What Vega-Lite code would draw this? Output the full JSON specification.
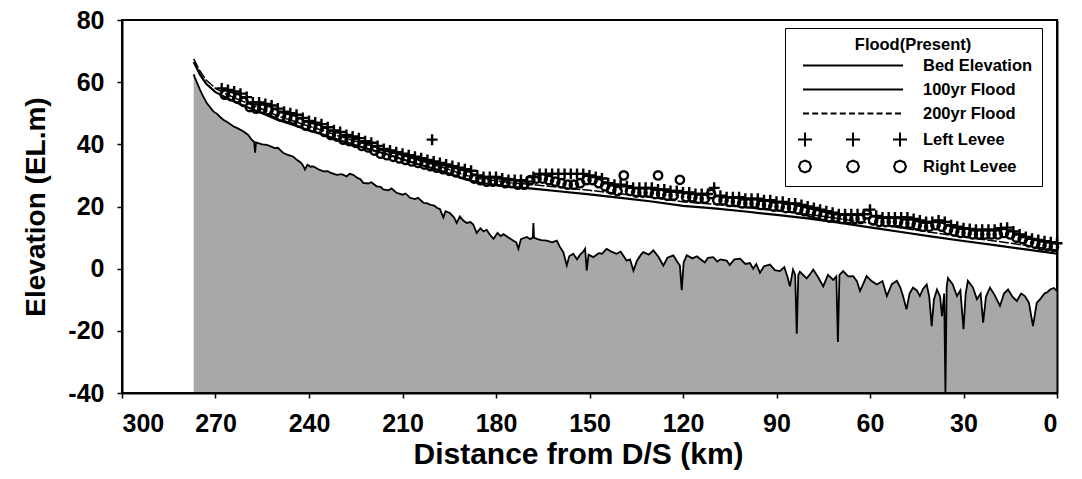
{
  "$schema": "https://vega.github.io/schema/vega-lite/v6.json",
  "width": 935,
  "height": 373,
  "autosize": "none",
  "padding": {"left": 122, "top": 20, "right": 25, "bottom": 86},
  "background": "white",
  "config": {
    "font": "Liberation Sans",
    "view": {"stroke": "black", "strokeWidth": 2},
    "axis": {
      "grid": false,
      "domainColor": "black",
      "domainWidth": 2,
      "tickColor": "black",
      "tickWidth": 1.5,
      "tickSize": 5,
      "labelColor": "black",
      "labelFont": "Liberation Sans",
      "labelFontWeight": "bold",
      "labelFontSize": 25,
      "titleColor": "black",
      "titleFont": "Liberation Sans",
      "titleFontWeight": "bold"
    }
  },
  "resolve": {"axis": {"y": "independent"}},
  "datasets": {
    "bed": [
      {"km": 277, "elev": 62.5}, {"km": 276.6, "elev": 61.4}, {"km": 275.8, "elev": 59.5}, {"km": 275, "elev": 57.6},
      {"km": 274, "elev": 55.5}, {"km": 272.8, "elev": 53.3}, {"km": 271.8, "elev": 52}, {"km": 270.7, "elev": 50.6},
      {"km": 269.5, "elev": 49.8}, {"km": 268.5, "elev": 48.8}, {"km": 267.5, "elev": 47.9}, {"km": 266, "elev": 47},
      {"km": 264.3, "elev": 45.8}, {"km": 263, "elev": 45.2}, {"km": 261.1, "elev": 44.2}, {"km": 259.5, "elev": 43},
      {"km": 258.4, "elev": 41.5}, {"km": 257.6, "elev": 40.8}, {"km": 257.3, "elev": 37.3}, {"km": 257, "elev": 40.6},
      {"km": 255, "elev": 40}, {"km": 253.5, "elev": 39.8}, {"km": 252.5, "elev": 39.4}, {"km": 251, "elev": 38.8},
      {"km": 250, "elev": 38.9}, {"km": 248.2, "elev": 37.2}, {"km": 246.5, "elev": 36.5}, {"km": 245, "elev": 36},
      {"km": 244, "elev": 35.1}, {"km": 242.5, "elev": 34}, {"km": 241.8, "elev": 33}, {"km": 241.3, "elev": 31.9},
      {"km": 240.5, "elev": 33.4}, {"km": 239.5, "elev": 32.8}, {"km": 238.6, "elev": 32.9}, {"km": 237, "elev": 32},
      {"km": 235.4, "elev": 31.3}, {"km": 234, "elev": 31.4}, {"km": 233, "elev": 30.8}, {"km": 231.1, "elev": 30.2},
      {"km": 229.5, "elev": 30.4}, {"km": 227.9, "elev": 29.7}, {"km": 227, "elev": 30.5}, {"km": 225.8, "elev": 30.2},
      {"km": 224.5, "elev": 29.2}, {"km": 223.5, "elev": 28.8}, {"km": 222.6, "elev": 27.6}, {"km": 221, "elev": 27.4},
      {"km": 220, "elev": 27.8}, {"km": 218.3, "elev": 26.5}, {"km": 217, "elev": 26.3}, {"km": 216.2, "elev": 25.5},
      {"km": 214.5, "elev": 25.2}, {"km": 213.5, "elev": 25.8}, {"km": 211.9, "elev": 24.4}, {"km": 210, "elev": 23.8},
      {"km": 209, "elev": 24.2}, {"km": 207.6, "elev": 22.8}, {"km": 206, "elev": 22.4}, {"km": 205, "elev": 22.8},
      {"km": 203.3, "elev": 21.2}, {"km": 202, "elev": 21}, {"km": 201, "elev": 20.5}, {"km": 199.8, "elev": 20.3},
      {"km": 199, "elev": 19.6}, {"km": 198, "elev": 19.2}, {"km": 196.9, "elev": 16.5}, {"km": 196.2, "elev": 18.5},
      {"km": 194.8, "elev": 17.9}, {"km": 193.5, "elev": 16.5}, {"km": 192.6, "elev": 14.7}, {"km": 191.6, "elev": 16.8},
      {"km": 190.5, "elev": 15.5}, {"km": 189.4, "elev": 14.7}, {"km": 188.2, "elev": 15}, {"km": 187.3, "elev": 14.2},
      {"km": 186.2, "elev": 11.5}, {"km": 185, "elev": 13}, {"km": 184, "elev": 12}, {"km": 183, "elev": 12.5},
      {"km": 182, "elev": 11}, {"km": 180.8, "elev": 9.6}, {"km": 179.5, "elev": 11.5}, {"km": 178.5, "elev": 10.5},
      {"km": 177.6, "elev": 11.1}, {"km": 176, "elev": 10}, {"km": 174.4, "elev": 9}, {"km": 173.5, "elev": 8.5},
      {"km": 172.8, "elev": 6.4}, {"km": 172, "elev": 9.5}, {"km": 170.1, "elev": 10.2}, {"km": 169, "elev": 9.5},
      {"km": 168.2, "elev": 10}, {"km": 168, "elev": 14.7}, {"km": 167.8, "elev": 10}, {"km": 166.9, "elev": 9.6},
      {"km": 165.5, "elev": 9.2}, {"km": 163.7, "elev": 9}, {"km": 162, "elev": 8.5}, {"km": 160.5, "elev": 9},
      {"km": 159.5, "elev": 7}, {"km": 158.4, "elev": 5.3}, {"km": 157.3, "elev": 1}, {"km": 156.5, "elev": 4},
      {"km": 155.2, "elev": 4.8}, {"km": 154, "elev": 3}, {"km": 153, "elev": 4.5}, {"km": 152, "elev": 5.5},
      {"km": 151.4, "elev": 6.4}, {"km": 150.9, "elev": -0.6}, {"km": 150.3, "elev": 4.5}, {"km": 148.8, "elev": 3.7},
      {"km": 147, "elev": 5}, {"km": 146, "elev": 4.8}, {"km": 144.5, "elev": 6.4}, {"km": 143, "elev": 5.5},
      {"km": 141.3, "elev": 4.8}, {"km": 140, "elev": 5.5}, {"km": 138.1, "elev": 2.6}, {"km": 137, "elev": 3},
      {"km": 135.9, "elev": -0.6}, {"km": 134.8, "elev": 2.5}, {"km": 133.5, "elev": 4.5}, {"km": 132.7, "elev": 5.3},
      {"km": 131, "elev": 4.5}, {"km": 129.5, "elev": 5.9}, {"km": 128, "elev": 4}, {"km": 126.3, "elev": 1},
      {"km": 125, "elev": 3.5}, {"km": 123.1, "elev": 4.3}, {"km": 122, "elev": 2.5}, {"km": 121, "elev": 1},
      {"km": 120.4, "elev": -6.9}, {"km": 119.8, "elev": 2}, {"km": 118.8, "elev": 4.3}, {"km": 117, "elev": 3.3},
      {"km": 115.5, "elev": 4}, {"km": 114.6, "elev": 3.2}, {"km": 113, "elev": 2}, {"km": 112, "elev": 3.5},
      {"km": 110.3, "elev": 3.7}, {"km": 109, "elev": 2.3}, {"km": 108, "elev": 3}, {"km": 106, "elev": 2.6},
      {"km": 105, "elev": 1.2}, {"km": 103.5, "elev": 3}, {"km": 101.7, "elev": 3.2}, {"km": 100, "elev": 1.5},
      {"km": 98.5, "elev": 1.8}, {"km": 97.5, "elev": 0}, {"km": 96.5, "elev": 1.5}, {"km": 95.3, "elev": -1.3},
      {"km": 94, "elev": 0.8}, {"km": 92.1, "elev": 1.3}, {"km": 90.5, "elev": -0.5}, {"km": 88.9, "elev": -0.8},
      {"km": 87.5, "elev": 0.5}, {"km": 86.5, "elev": -2.5}, {"km": 85.7, "elev": -5.7}, {"km": 84.7, "elev": -0.3},
      {"km": 84, "elev": -2}, {"km": 83.5, "elev": -20.9}, {"km": 83, "elev": -2}, {"km": 82.5, "elev": -1},
      {"km": 80.3, "elev": -3.1}, {"km": 79, "elev": -1.5}, {"km": 78.2, "elev": -0.3}, {"km": 76.5, "elev": -3},
      {"km": 75, "elev": -5.7}, {"km": 73.5, "elev": -2}, {"km": 71.8, "elev": -3.6}, {"km": 70.8, "elev": -2.5},
      {"km": 70.3, "elev": -23.6}, {"km": 69.8, "elev": -2}, {"km": 68.6, "elev": -0.8}, {"km": 67, "elev": -2.5},
      {"km": 65.4, "elev": -2.4}, {"km": 64.2, "elev": -4}, {"km": 63.2, "elev": -7.2}, {"km": 62, "elev": -4.5},
      {"km": 61.1, "elev": -2.4}, {"km": 59.5, "elev": -4}, {"km": 57.8, "elev": -5.1}, {"km": 56, "elev": -4},
      {"km": 54.6, "elev": -8.8}, {"km": 53, "elev": -5}, {"km": 51.4, "elev": -3.9}, {"km": 50.3, "elev": -6},
      {"km": 49.4, "elev": -8.8}, {"km": 48.3, "elev": -13.1}, {"km": 47.3, "elev": -8}, {"km": 46.2, "elev": -6.1},
      {"km": 45, "elev": -7}, {"km": 44, "elev": -8.8}, {"km": 43, "elev": -6.5}, {"km": 41.8, "elev": -5.1},
      {"km": 41, "elev": -9}, {"km": 40.2, "elev": -18.5}, {"km": 39.5, "elev": -10}, {"km": 38.5, "elev": -6.7},
      {"km": 37.5, "elev": -9}, {"km": 36.9, "elev": -15.3}, {"km": 36.2, "elev": -8}, {"km": 35.8, "elev": -40},
      {"km": 35.4, "elev": -6}, {"km": 35, "elev": -3}, {"km": 33.5, "elev": -5}, {"km": 32.1, "elev": -8.8},
      {"km": 31, "elev": -7}, {"km": 30, "elev": -19.5}, {"km": 29.3, "elev": -8}, {"km": 28.6, "elev": -3.9},
      {"km": 27, "elev": -6}, {"km": 25.7, "elev": -9.8}, {"km": 24.5, "elev": -8}, {"km": 23.7, "elev": -17.4},
      {"km": 22.8, "elev": -9}, {"km": 21.5, "elev": -6.1}, {"km": 20, "elev": -8.5}, {"km": 18.3, "elev": -12},
      {"km": 17, "elev": -8}, {"km": 15.7, "elev": -6.7}, {"km": 14.3, "elev": -9}, {"km": 12.9, "elev": -10.4},
      {"km": 11.5, "elev": -8}, {"km": 10.3, "elev": -8.8}, {"km": 9, "elev": -11}, {"km": 7.7, "elev": -18.5},
      {"km": 6.5, "elev": -11}, {"km": 5.4, "elev": -9.8}, {"km": 4, "elev": -8}, {"km": 3, "elev": -7.5},
      {"km": 2.2, "elev": -6.7}, {"km": 1, "elev": -6.2}, {"km": 0, "elev": -7.2}
    ],
    "flood100": [
      {"km": 277, "elev": 66.5}, {"km": 275, "elev": 62.5}, {"km": 273, "elev": 59.5}, {"km": 270, "elev": 56.8},
      {"km": 267, "elev": 55.2}, {"km": 264, "elev": 53.8}, {"km": 260, "elev": 52}, {"km": 255, "elev": 50},
      {"km": 250, "elev": 47.8}, {"km": 245, "elev": 46.2}, {"km": 240, "elev": 44.5}, {"km": 235, "elev": 43},
      {"km": 230, "elev": 41.2}, {"km": 225, "elev": 39.7}, {"km": 220, "elev": 38.2}, {"km": 215, "elev": 36.8},
      {"km": 210, "elev": 35.2}, {"km": 205, "elev": 33.6}, {"km": 200, "elev": 32.2}, {"km": 195, "elev": 30.6},
      {"km": 190, "elev": 28.8}, {"km": 185, "elev": 27.6}, {"km": 180, "elev": 27}, {"km": 175, "elev": 26.3},
      {"km": 170, "elev": 25.9}, {"km": 165, "elev": 25.4}, {"km": 160, "elev": 24.9}, {"km": 150, "elev": 23.9},
      {"km": 140, "elev": 22.8}, {"km": 130, "elev": 21.6}, {"km": 120, "elev": 20.2}, {"km": 110, "elev": 19.4},
      {"km": 100, "elev": 18.4}, {"km": 90, "elev": 17.3}, {"km": 80, "elev": 16.2}, {"km": 70, "elev": 14.8},
      {"km": 60, "elev": 13.3}, {"km": 50, "elev": 11.8}, {"km": 40, "elev": 10.3}, {"km": 30, "elev": 8.9},
      {"km": 20, "elev": 7.6}, {"km": 10, "elev": 6.2}, {"km": 0, "elev": 4.8}
    ],
    "flood200": [
      {"km": 277, "elev": 67.5}, {"km": 275, "elev": 63.6}, {"km": 273, "elev": 60.7}, {"km": 270, "elev": 58},
      {"km": 267, "elev": 56.4}, {"km": 264, "elev": 55}, {"km": 260, "elev": 53.3}, {"km": 255, "elev": 51.3},
      {"km": 250, "elev": 49.1}, {"km": 245, "elev": 47.5}, {"km": 240, "elev": 45.8}, {"km": 235, "elev": 44.3},
      {"km": 230, "elev": 42.5}, {"km": 225, "elev": 41}, {"km": 220, "elev": 39.5}, {"km": 215, "elev": 38.1},
      {"km": 210, "elev": 36.5}, {"km": 205, "elev": 34.9}, {"km": 200, "elev": 33.5}, {"km": 195, "elev": 31.9},
      {"km": 190, "elev": 30.1}, {"km": 185, "elev": 28.9}, {"km": 180, "elev": 28.3}, {"km": 175, "elev": 27.6},
      {"km": 170, "elev": 27.2}, {"km": 165, "elev": 26.7}, {"km": 160, "elev": 26.2}, {"km": 150, "elev": 25.2},
      {"km": 140, "elev": 24.1}, {"km": 130, "elev": 22.9}, {"km": 120, "elev": 21.5}, {"km": 110, "elev": 20.7},
      {"km": 100, "elev": 19.7}, {"km": 90, "elev": 18.6}, {"km": 80, "elev": 17.5}, {"km": 70, "elev": 16.1},
      {"km": 60, "elev": 14.6}, {"km": 50, "elev": 13.1}, {"km": 40, "elev": 11.6}, {"km": 30, "elev": 10.2},
      {"km": 20, "elev": 8.9}, {"km": 10, "elev": 7.5}, {"km": 0, "elev": 6}
    ],
    "leftLevee": [
      {"km": 268, "elev": 58}, {"km": 266, "elev": 57.5}, {"km": 264, "elev": 57}, {"km": 262, "elev": 56.3},
      {"km": 260, "elev": 55.2}, {"km": 258, "elev": 53.5}, {"km": 256, "elev": 53.5}, {"km": 254, "elev": 53},
      {"km": 252, "elev": 52.5}, {"km": 250, "elev": 51.5}, {"km": 248, "elev": 50.5}, {"km": 246, "elev": 50},
      {"km": 244, "elev": 49.5}, {"km": 242, "elev": 48.5}, {"km": 240, "elev": 47.5}, {"km": 238, "elev": 47},
      {"km": 236, "elev": 46.5}, {"km": 234, "elev": 45.5}, {"km": 232, "elev": 44.5}, {"km": 230, "elev": 44},
      {"km": 228, "elev": 43}, {"km": 226, "elev": 42.5}, {"km": 224, "elev": 42}, {"km": 222, "elev": 41},
      {"km": 220, "elev": 40.5}, {"km": 218, "elev": 39.5}, {"km": 216, "elev": 38.5}, {"km": 214, "elev": 38},
      {"km": 212, "elev": 37.5}, {"km": 210, "elev": 37}, {"km": 208, "elev": 36.5}, {"km": 206, "elev": 36},
      {"km": 204, "elev": 35.5}, {"km": 202, "elev": 35}, {"km": 200.5, "elev": 41.5}, {"km": 200, "elev": 34.5},
      {"km": 198, "elev": 34}, {"km": 196, "elev": 33.5}, {"km": 194, "elev": 33}, {"km": 192, "elev": 32.5},
      {"km": 190, "elev": 32}, {"km": 188, "elev": 31.5}, {"km": 186, "elev": 30}, {"km": 184, "elev": 29.5},
      {"km": 182, "elev": 29.5}, {"km": 180, "elev": 29.5}, {"km": 178, "elev": 29}, {"km": 176, "elev": 28.5},
      {"km": 174, "elev": 28.5}, {"km": 172, "elev": 28.5}, {"km": 170, "elev": 28}, {"km": 168, "elev": 29.5},
      {"km": 166, "elev": 30.5}, {"km": 164, "elev": 30.5}, {"km": 162, "elev": 30.5}, {"km": 160, "elev": 30.5},
      {"km": 158, "elev": 30.5}, {"km": 156, "elev": 30.5}, {"km": 154, "elev": 30.5}, {"km": 152, "elev": 30.5},
      {"km": 150, "elev": 30}, {"km": 148, "elev": 29.5}, {"km": 146, "elev": 29}, {"km": 144, "elev": 27.5},
      {"km": 142, "elev": 27}, {"km": 140, "elev": 27}, {"km": 138, "elev": 26.5}, {"km": 136, "elev": 26},
      {"km": 134, "elev": 26}, {"km": 132, "elev": 26}, {"km": 130, "elev": 26}, {"km": 128, "elev": 25.5},
      {"km": 126, "elev": 25.5}, {"km": 124, "elev": 25}, {"km": 122, "elev": 25}, {"km": 120, "elev": 24.5},
      {"km": 118, "elev": 24.5}, {"km": 116, "elev": 24}, {"km": 114, "elev": 24}, {"km": 112, "elev": 24},
      {"km": 110, "elev": 26}, {"km": 108, "elev": 23.5}, {"km": 106, "elev": 23}, {"km": 104, "elev": 23},
      {"km": 102, "elev": 23}, {"km": 100, "elev": 22.5}, {"km": 98, "elev": 22.5}, {"km": 96, "elev": 22.5},
      {"km": 94, "elev": 22}, {"km": 92, "elev": 22}, {"km": 90, "elev": 21.5}, {"km": 88, "elev": 21.5},
      {"km": 86, "elev": 21}, {"km": 84, "elev": 21}, {"km": 82, "elev": 20.5}, {"km": 80, "elev": 20},
      {"km": 78, "elev": 19.5}, {"km": 76, "elev": 19}, {"km": 74, "elev": 18.5}, {"km": 72, "elev": 18},
      {"km": 70, "elev": 17.5}, {"km": 68, "elev": 17.5}, {"km": 66, "elev": 17.5}, {"km": 64, "elev": 17.5},
      {"km": 62, "elev": 17.5}, {"km": 60, "elev": 19}, {"km": 58, "elev": 17}, {"km": 56, "elev": 16.5},
      {"km": 54, "elev": 16.5}, {"km": 52, "elev": 16.5}, {"km": 50, "elev": 16.5}, {"km": 48, "elev": 16.5},
      {"km": 46, "elev": 16}, {"km": 44, "elev": 15.5}, {"km": 42, "elev": 15}, {"km": 40, "elev": 15},
      {"km": 38, "elev": 15.5}, {"km": 36, "elev": 15}, {"km": 34, "elev": 14}, {"km": 32, "elev": 13.5},
      {"km": 30, "elev": 13}, {"km": 28, "elev": 12.8}, {"km": 26, "elev": 12.5}, {"km": 24, "elev": 12.5},
      {"km": 22, "elev": 12.5}, {"km": 20, "elev": 12.5}, {"km": 18, "elev": 13}, {"km": 16, "elev": 13.2},
      {"km": 14, "elev": 12}, {"km": 12, "elev": 11}, {"km": 10, "elev": 10.2}, {"km": 8, "elev": 9.6},
      {"km": 6, "elev": 9.2}, {"km": 4, "elev": 8.8}, {"km": 2, "elev": 8.5}, {"km": 0, "elev": 8.2}
    ],
    "rightLevee": [
      {"km": 267, "elev": 56}, {"km": 265, "elev": 55.5}, {"km": 263, "elev": 54.8}, {"km": 261, "elev": 53.7},
      {"km": 259, "elev": 52}, {"km": 257, "elev": 51.5}, {"km": 255, "elev": 51.5}, {"km": 253, "elev": 51},
      {"km": 251, "elev": 50}, {"km": 249, "elev": 49}, {"km": 247, "elev": 48.5}, {"km": 245, "elev": 48},
      {"km": 243, "elev": 47}, {"km": 241, "elev": 46}, {"km": 239, "elev": 45.5}, {"km": 237, "elev": 45},
      {"km": 235, "elev": 44}, {"km": 233, "elev": 43}, {"km": 231, "elev": 42.5}, {"km": 229, "elev": 41.5},
      {"km": 227, "elev": 41}, {"km": 225, "elev": 40.5}, {"km": 223, "elev": 39.5}, {"km": 221, "elev": 39},
      {"km": 219, "elev": 38}, {"km": 217, "elev": 37}, {"km": 215, "elev": 36.5}, {"km": 213, "elev": 36},
      {"km": 211, "elev": 35.5}, {"km": 209, "elev": 35}, {"km": 207, "elev": 34.5}, {"km": 205, "elev": 34},
      {"km": 203, "elev": 33.5}, {"km": 201, "elev": 33}, {"km": 199, "elev": 32.5}, {"km": 197, "elev": 32},
      {"km": 195, "elev": 31.5}, {"km": 193, "elev": 31}, {"km": 191, "elev": 30.5}, {"km": 189, "elev": 30},
      {"km": 187, "elev": 29}, {"km": 185, "elev": 28.5}, {"km": 183, "elev": 28}, {"km": 181, "elev": 28},
      {"km": 179, "elev": 28}, {"km": 177, "elev": 27.5}, {"km": 175, "elev": 27.5}, {"km": 173, "elev": 27},
      {"km": 171, "elev": 27}, {"km": 169, "elev": 28.5}, {"km": 167, "elev": 29}, {"km": 165, "elev": 29},
      {"km": 163, "elev": 28.5}, {"km": 161, "elev": 28}, {"km": 159, "elev": 27.5}, {"km": 157, "elev": 27},
      {"km": 155, "elev": 27}, {"km": 153, "elev": 27.5}, {"km": 151, "elev": 28.5}, {"km": 149, "elev": 28.5},
      {"km": 147, "elev": 27.5}, {"km": 145, "elev": 26.5}, {"km": 143, "elev": 25.5}, {"km": 141, "elev": 25},
      {"km": 139, "elev": 30}, {"km": 137, "elev": 25}, {"km": 135, "elev": 24.5}, {"km": 133, "elev": 24.5},
      {"km": 131, "elev": 24.5}, {"km": 129, "elev": 24}, {"km": 128, "elev": 30}, {"km": 127, "elev": 24},
      {"km": 125, "elev": 23.5}, {"km": 123, "elev": 23.5}, {"km": 121, "elev": 28.6}, {"km": 119, "elev": 23},
      {"km": 117, "elev": 23}, {"km": 115, "elev": 22.5}, {"km": 113, "elev": 22.5}, {"km": 111, "elev": 24},
      {"km": 109, "elev": 22}, {"km": 107, "elev": 22}, {"km": 105, "elev": 21.5}, {"km": 103, "elev": 21.5},
      {"km": 101, "elev": 21}, {"km": 99, "elev": 21}, {"km": 97, "elev": 21}, {"km": 95, "elev": 20.5},
      {"km": 93, "elev": 20.5}, {"km": 91, "elev": 20}, {"km": 89, "elev": 20}, {"km": 87, "elev": 19.5},
      {"km": 85, "elev": 19.5}, {"km": 83, "elev": 19}, {"km": 81, "elev": 18.5}, {"km": 79, "elev": 18},
      {"km": 77, "elev": 17.5}, {"km": 75, "elev": 17}, {"km": 73, "elev": 16.5}, {"km": 71, "elev": 16.5},
      {"km": 69, "elev": 16}, {"km": 67, "elev": 16}, {"km": 65, "elev": 16}, {"km": 63, "elev": 16},
      {"km": 61, "elev": 17.5}, {"km": 59, "elev": 15.5}, {"km": 57, "elev": 15}, {"km": 55, "elev": 15},
      {"km": 53, "elev": 15}, {"km": 51, "elev": 15}, {"km": 49, "elev": 14.5}, {"km": 47, "elev": 14.5},
      {"km": 45, "elev": 14}, {"km": 43, "elev": 13.5}, {"km": 41, "elev": 13.5}, {"km": 39, "elev": 14},
      {"km": 37, "elev": 13.5}, {"km": 35, "elev": 12.5}, {"km": 33, "elev": 12}, {"km": 31, "elev": 11.5},
      {"km": 29, "elev": 11.5}, {"km": 27, "elev": 11}, {"km": 25, "elev": 11}, {"km": 23, "elev": 11},
      {"km": 21, "elev": 11}, {"km": 19, "elev": 11}, {"km": 17, "elev": 11.5}, {"km": 15, "elev": 11},
      {"km": 13, "elev": 10}, {"km": 11, "elev": 9.5}, {"km": 9, "elev": 8.5}, {"km": 7, "elev": 8},
      {"km": 5, "elev": 7.5}, {"km": 3, "elev": 7.2}, {"km": 1, "elev": 7}
    ],
    "legendItems": [
      {"series": "Bed Elevation"}, {"series": "100yr Flood"}, {"series": "200yr Flood"},
      {"series": "Left Levee"}, {"series": "Right Levee"}
    ]
  },
  "layer": [
    {
      "data": {"name": "bed"},
      "mark": {"type": "area", "color": "#a8a8a8", "opacity": 1},
      "encoding": {
        "x": {
          "field": "km", "type": "quantitative",
          "scale": {"domain": [0, 300], "reverse": true, "nice": false, "zero": false},
          "axis": {
            "title": "Distance from D/S (km)",
            "titleFontSize": 30,
            "values": [0, 30, 60, 90, 120, 150, 180, 210, 240, 270, 300],
            "format": "d",
            "labelPadding": 13,
            "titleX": 456,
            "titleY": 46,
            "titleBaseline": "top",
            "zindex": 1
          }
        },
        "y": {
          "field": "elev", "type": "quantitative",
          "scale": {"domain": [-40, 80], "nice": false, "zero": false},
          "axis": {
            "title": "Elevation (EL.m)",
            "titleFontSize": 28,
            "values": [-40, -20, 0, 20, 40, 60, 80],
            "labelExpr": "'' + datum.value",
            "labelPadding": 13,
            "titleX": -86,
            "titleBaseline": "middle",
            "zindex": 1
          }
        },
        "y2": {"datum": -39.7}
      }
    },
    {
      "data": {"name": "bed"},
      "mark": {"type": "line", "color": "black", "strokeWidth": 1.8},
      "encoding": {
        "x": {"field": "km", "type": "quantitative"},
        "y": {
          "field": "elev", "type": "quantitative",
          "axis": {"orient": "right", "title": null, "labels": false, "ticks": false, "values": [], "domain": true, "domainColor": "black", "domainWidth": 2, "zindex": 1}
        }
      }
    },
    {
      "data": {"name": "flood100"},
      "mark": {"type": "line", "color": "black", "strokeWidth": 2.2},
      "encoding": {
        "x": {"field": "km", "type": "quantitative"},
        "y": {"field": "elev", "type": "quantitative", "axis": null}
      }
    },
    {
      "data": {"name": "flood200"},
      "mark": {"type": "line", "color": "black", "strokeWidth": 1.5, "strokeDash": [10, 2]},
      "encoding": {
        "x": {"field": "km", "type": "quantitative"},
        "y": {"field": "elev", "type": "quantitative", "axis": null}
      }
    },
    {
      "data": {"name": "leftLevee"},
      "mark": {"type": "point", "shape": "M-1,0H1M0,-1V1", "size": 120, "color": "black", "filled": false, "strokeWidth": 2.4, "opacity": 1},
      "encoding": {
        "x": {"field": "km", "type": "quantitative"},
        "y": {"field": "elev", "type": "quantitative", "axis": null}
      }
    },
    {
      "data": {"name": "rightLevee"},
      "mark": {"type": "point", "shape": "circle", "size": 70, "color": "black", "filled": false, "strokeWidth": 2.4, "opacity": 1},
      "encoding": {
        "x": {"field": "km", "type": "quantitative"},
        "y": {"field": "elev", "type": "quantitative", "axis": null}
      }
    },
    {
      "data": {"name": "legendItems"},
      "mark": {"type": "point", "color": "black", "filled": false, "opacity": 0},
      "encoding": {
        "shape": {
          "field": "series", "type": "nominal",
          "scale": {
            "domain": ["Bed Elevation", "100yr Flood", "200yr Flood", "Left Levee", "Right Levee"],
            "range": [
              "M0,0H12.5",
              "M0,0H12.5",
              "M0,0H0.75M1.15,0H1.9M2.3,0H3.05M3.45,0H4.2M4.6,0H5.35M5.75,0H6.5M6.9,0H7.65M8.05,0H8.8M9.2,0H9.95M10.35,0H11.1M11.5,0H12.25",
              "M-0.625,0H1.125M0.25,-0.875V0.875M5.375,0H7.125M6.25,-0.875V0.875M11.25,0H13M12.125,-0.875V0.875",
              "M1,0L0.78,0.53L0.25,0.75L-0.28,0.53L-0.5,0L-0.28,-0.53L0.25,-0.75L0.78,-0.53ZM7,0L6.78,0.53L6.25,0.75L5.72,0.53L5.5,0L5.72,-0.53L6.25,-0.75L6.78,-0.53ZM12.875,0L12.655,0.53L12.125,0.75L11.595,0.53L11.375,0L11.595,-0.53L12.125,-0.75L12.655,-0.53Z"
            ]
          },
          "legend": {
            "title": "Flood(Present)",
            "orient": "none",
            "legendX": 663,
            "legendY": 8,
            "padding": 9,
            "strokeColor": "black",
            "fillColor": "white",
            "symbolSize": 256,
            "symbolStrokeWidth": 2,
            "symbolStrokeColor": "black",
            "symbolFillColor": "transparent",
            "symbolOpacity": 1,
            "labelFont": "Liberation Sans",
            "labelFontSize": 16.5,
            "labelFontWeight": "bold",
            "labelColor": "black",
            "labelOffset": 111,
            "rowPadding": 6,
            "titleFont": "Liberation Sans",
            "titleFontSize": 16.5,
            "titleFontWeight": "bold",
            "titleColor": "black",
            "titleAnchor": "middle",
            "titlePadding": 3,
            "encode": {"legend": {"update": {"strokeWidth": {"value": 2}}}}
          }
        }
      }
    }
  ]
}
